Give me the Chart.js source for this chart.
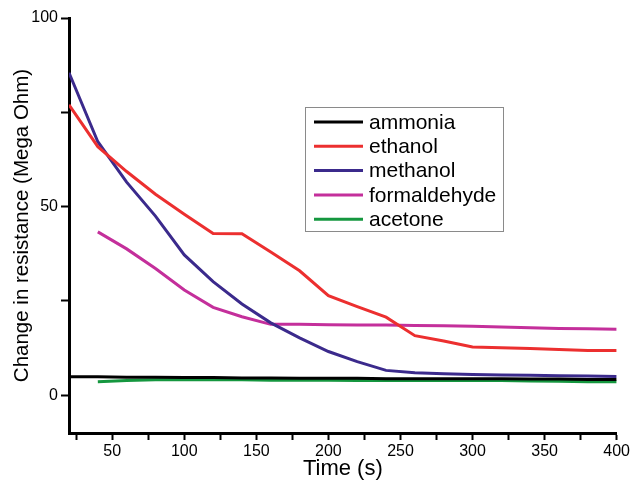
<!DOCTYPE html>
<html>
<head>
<meta charset="utf-8">
<script src="https://cdn.jsdelivr.net/npm/chart.js@4"></script>
<style>
  html, body { margin: 0; padding: 0; background: #fff; }
  #wrap { position: relative; width: 632px; height: 483px; }
</style>
</head>
<body>
<div id="wrap"><canvas id="chart" width="632" height="483"></canvas></div>
<script>
/* ===============================
   Data
================================ */
const times = [20, 40, 60, 80, 100, 120, 140, 160, 180, 200, 220, 240, 260, 280, 300, 320, 340, 360, 380, 400];

const ammonia      = [4.9, 4.9, 4.8, 4.8, 4.7, 4.7, 4.6, 4.6, 4.5, 4.5, 4.5, 4.4, 4.4, 4.4, 4.4, 4.4, 4.3, 4.3, 4.2, 4.2];
const ethanol      = [77.0, 65.9, 59.3, 53.3, 48.0, 42.9, 42.8, 38.0, 33.0, 26.4, 23.5, 20.7, 15.8, 14.4, 12.8, 12.6, 12.4, 12.1, 11.9, 11.9];
const methanol     = [85.5, 67.2, 56.5, 47.5, 37.2, 30.1, 24.2, 19.2, 15.2, 11.6, 8.9, 6.6, 6.0, 5.7, 5.5, 5.4, 5.3, 5.2, 5.1, 5.0];
const formaldehyde = [null, 43.3, 38.8, 33.6, 27.9, 23.3, 20.8, 18.8, 18.8, 18.7, 18.6, 18.6, 18.5, 18.4, 18.3, 18.1, 17.9, 17.7, 17.6, 17.5];
const acetone      = [null, 3.6, 3.9, 4.1, 4.1, 4.1, 4.1, 4.0, 4.0, 4.0, 3.9, 3.9, 3.9, 3.9, 3.9, 3.9, 3.8, 3.7, 3.6, 3.6];

const xTicks = [25, 50, 75, 100, 125, 150, 175, 200, 225, 250, 275, 300, 325, 350, 375, 400];
const yTicks = [0, 25, 50, 75, 100];

const FONT = "'Liberation Sans', Arial, sans-serif";

function series(label, values, color) {
  return {
    label,
    data: times.map((t, i) => ({ x: t, y: values[i] })),
    borderColor: color,
    backgroundColor: color,
    borderWidth: 3,
    pointRadius: 0,
    tension: 0,
    spanGaps: false
  };
}

/* ===============================
   Legend box drawn inside the plot
================================ */
const boxLegend = {
  id: "boxLegend",
  afterDraw(chart) {
    const ctx = chart.ctx;
    const left = 305, top = 107, w = 198, h = 124;
    ctx.save();
    ctx.fillStyle = "#fff";
    ctx.fillRect(left, top, w, h);
    ctx.strokeStyle = "#8a8a8a";
    ctx.lineWidth = 1;
    ctx.strokeRect(left + 0.5, top + 0.5, w, h);
    ctx.font = "21px " + FONT;
    ctx.textBaseline = "middle";
    chart.data.datasets.forEach((ds, i) => {
      const y = 122 + i * 24.3;
      ctx.strokeStyle = ds.borderColor;
      ctx.lineWidth = 3;
      ctx.beginPath();
      ctx.moveTo(314, y);
      ctx.lineTo(363, y);
      ctx.stroke();
      ctx.fillStyle = "#000";
      ctx.fillText(ds.label, 369, y + 1);
    });
    ctx.restore();
  }
};

new Chart(document.getElementById("chart"), {
  type: "line",
  data: {
    datasets: [
      series("ammonia", ammonia, "#000000"),
      series("ethanol", ethanol, "#ec2f2f"),
      series("methanol", methanol, "#3b2a8c"),
      series("formaldehyde", formaldehyde, "#c42f9b"),
      series("acetone", acetone, "#15973f")
    ]
  },
  options: {
    responsive: false,
    animation: false,
    layout: { padding: { left: 0, right: 15, top: 18, bottom: 0 } },
    plugins: {
      legend: { display: false },
      tooltip: { enabled: false }
    },
    scales: {
      x: {
        type: "linear",
        min: 20,
        max: 400,
        afterBuildTicks: s => { s.ticks = xTicks.map(v => ({ value: v })); },
        afterFit: s => { s.height = 50; },
        border: { color: "#000", width: 3 },
        grid: { drawOnChartArea: false, tickLength: 7, tickColor: "#000", tickWidth: 2 },
        ticks: {
          color: "#000",
          font: { family: FONT, size: 16 },
          padding: 2,
          maxRotation: 0,
          autoSkip: false,
          callback: v => (v % 50 === 0 ? v : "")
        },
        title: {
          display: true,
          text: "Time (s)",
          color: "#000",
          font: { family: FONT, size: 22 },
          padding: { top: 0, bottom: 1 }
        }
      },
      y: {
        min: -10,
        max: 100,
        afterBuildTicks: s => { s.ticks = yTicks.map(v => ({ value: v })); },
        afterFit: s => { s.width = 69; },
        border: { color: "#000", width: 3 },
        grid: { drawOnChartArea: false, tickLength: 8, tickColor: "#000", tickWidth: 2 },
        ticks: {
          color: "#000",
          font: { family: FONT, size: 16 },
          padding: 3,
          autoSkip: false,
          callback: v => (v % 50 === 0 ? v : "")
        },
        title: {
          display: true,
          text: "Change in resistance (Mega Ohm)",
          color: "#000",
          font: { family: FONT, size: 20.5 },
          padding: { top: 10, bottom: 0 }
        }
      }
    }
  },
  plugins: [boxLegend]
});
</script>
</body>
</html>
